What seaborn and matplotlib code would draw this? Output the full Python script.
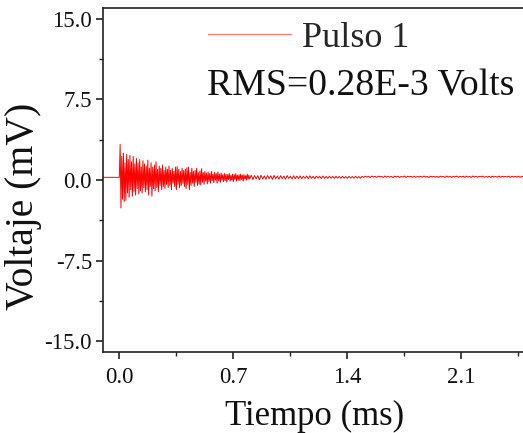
import numpy as np
import pandas as pd
import matplotlib
matplotlib.use("Agg")
import matplotlib.pyplot as plt
import seaborn as sns
from matplotlib.ticker import MultipleLocator, FormatStrFormatter

# ---------------- data (mV) ----------------
# pre-trigger (flat)
t_pre = [-0.1, -0.005]
v_pre = [0.25, 0.25]

# segment A: 0.000 .. 0.795 ms, sampled every 0.005 ms
a_start, a_step = 0.0, 0.005
v_a = [
    0.25, 3.3, -2.6, 2.2, -1.8, 2.5, -2.0, 1.6, -1.9, 2.4,
    -1.2, 1.9, -1.6, 2.3, -0.9, 1.7, -1.5, 2.2, -1.1, 1.5,
    -1.4, 2.0, -0.8, 1.6, -1.3, 1.9, -1.0, 1.2, -1.2, 1.8,
    -0.7, 1.5, -1.1, 1.3, -0.9, 1.85, -1.4, 1.1, -0.6, 1.6,
    -1.5, 1.2, -0.8, 1.4, -1.0, 1.7, -0.7, 1.0, -1.1, 1.3,
    -0.5, 1.1, -0.9, 1.4, -0.6, 0.9, -0.8, 1.2, -0.4, 1.0,
    -0.7, 1.3, -0.5, 0.9, -0.9, 1.1, -0.3, 0.8, -0.6, 1.2,
    -0.9, 1.25, -0.4, 1.0, -0.7, 0.8, -0.5, 1.1, -0.3, 0.9,
    -0.6, 1.0, -0.8, 1.15, -0.4, 1.2, -0.9, 0.7, -0.5, 1.1,
    -0.3, 0.8, -0.6, 0.9, -0.2, 1.1, -0.5, 0.7, -0.4, 0.85,
    -0.45, 1.05, -0.2, 0.7, -0.4, 0.8, -0.1, 0.65, -0.35, 0.75,
    -0.15, 0.6, -0.3, 0.8, -0.05, 0.55, -0.25, 0.7, 0.0, 0.6,
    -0.3, 0.75, -0.1, 0.55, -0.2, 0.65, 0.0, 0.5, -0.15, 0.6,
    -0.05, 0.55, -0.2, 0.5, 0.05, 0.6, -0.1, 0.45, 0.0, 0.55,
    -0.15, 0.5, 0.05, 0.6, -0.1, 0.45, 0.0, 0.5, -0.05, 0.55,
    0.05, 0.45, -0.1, 0.5, 0.1, 0.4, 0.0, 0.55, 0.05, 0.45,
]

# segment B: 0.80 .. 1.49 ms, sampled every 0.01 ms
b_start, b_step = 0.80, 0.01
v_b = [
    0.10, 0.45, 0.05, 0.42, 0.12, 0.40, 0.02, 0.44, 0.10, 0.38,
    0.08, 0.41, 0.14, 0.39, 0.06, 0.43, 0.12, 0.36, 0.09, 0.40,
    0.13, 0.37, 0.08, 0.41, 0.15, 0.35, 0.10, 0.39, 0.12, 0.36,
    0.14, 0.38, 0.11, 0.35, 0.16, 0.37, 0.12, 0.39, 0.15, 0.34,
    0.13, 0.36, 0.17, 0.35, 0.14, 0.37, 0.16, 0.33, 0.15, 0.36,
    0.17, 0.34, 0.15, 0.35, 0.18, 0.33, 0.16, 0.35, 0.17, 0.32,
    0.16, 0.34, 0.18, 0.33, 0.17, 0.35, 0.18, 0.32, 0.17, 0.34,
]

# segment C: 1.50 .. 2.50 ms, sampled every 0.01 ms
c_start, c_step = 1.50, 0.01
v_c = [
    0.24, 0.36, 0.27, 0.35, 0.23, 0.37, 0.28, 0.34, 0.25, 0.36,
    0.29, 0.33, 0.24, 0.37, 0.27, 0.35, 0.26, 0.34, 0.23, 0.36,
    0.28, 0.35, 0.25, 0.33, 0.27, 0.37, 0.24, 0.35, 0.29, 0.34,
    0.26, 0.36, 0.24, 0.33, 0.28, 0.35, 0.25, 0.37, 0.27, 0.34,
    0.23, 0.36, 0.28, 0.34, 0.26, 0.35, 0.24, 0.36, 0.29, 0.33,
    0.25, 0.37, 0.27, 0.34, 0.24, 0.35, 0.28, 0.36, 0.26, 0.33,
    0.29, 0.35, 0.25, 0.36, 0.27, 0.34, 0.24, 0.37, 0.28, 0.35,
    0.26, 0.34, 0.29, 0.36, 0.25, 0.33, 0.27, 0.35, 0.24, 0.36,
    0.28, 0.34, 0.26, 0.37, 0.25, 0.35, 0.29, 0.33, 0.27, 0.36,
    0.24, 0.35, 0.28, 0.34, 0.26, 0.36, 0.25, 0.35, 0.27, 0.34, 0.30,
]

x_ticks = [0.0, 0.7, 1.4, 2.1]
y_ticks = [-15.0, -7.5, 0.0, 7.5, 15.0]
series_label = "Pulso 1"
rms_text = "RMS=0.28E-3 Volts"
x_label = "Tiempo (ms)"
y_label = "Voltaje (mV)"

t_a = a_start + a_step * np.arange(len(v_a))
t_b = b_start + b_step * np.arange(len(v_b))
t_c = c_start + c_step * np.arange(len(v_c))
df = pd.DataFrame({
    "t": np.concatenate([t_pre, t_a, t_b, t_c]),
    "v": np.concatenate([v_pre, v_a, v_b, v_c]),
})

# ---------------- style ----------------
sns.set_style("ticks")
plt.rcParams["font.family"] = ["Liberation Serif", "DejaVu Serif"]
plt.rcParams["axes.unicode_minus"] = False

fig = plt.figure(figsize=(5.23, 4.33), dpi=100)
ax = fig.add_axes([0.197, 0.187, 0.841, 0.7945])

sns.lineplot(data=df, x="t", y="v", ax=ax, color="#ff0000", linewidth=0.7,
             estimator=None, sort=False, label=series_label)

ax.set_xlim(-0.1, 2.6)
ax.set_ylim(-16, 16)
ax.set_xticks(x_ticks)
ax.set_yticks(y_ticks)
ax.xaxis.set_minor_locator(MultipleLocator(0.35))
ax.yaxis.set_minor_locator(MultipleLocator(3.75))
ax.xaxis.set_major_formatter(FormatStrFormatter("%.1f"))
ax.yaxis.set_major_formatter(FormatStrFormatter("%.1f"))

for s in ax.spines.values():
    s.set_linewidth(1.2)
    s.set_color("#222222")
ax.tick_params(axis="both", which="major", direction="out", length=5, width=1.2,
               labelsize=16.5, colors="#222222", labelcolor="#111111")
ax.tick_params(axis="x", which="major", pad=6)
ax.tick_params(axis="y", which="major", pad=3)
ax.tick_params(axis="both", which="minor", direction="out", length=3, width=1.0,
               colors="#222222")

ax.set_xlabel(x_label, fontsize=25, color="#111111")
ax.set_ylabel(y_label, fontsize=28.5, color="#111111")
ax.xaxis.set_label_coords(0.482, -0.14)
ax.yaxis.set_label_coords(-0.139, 0.424)

leg = ax.legend(loc="center left", bbox_to_anchor=(0.239, 0.913), frameon=False,
                fontsize=26, handlelength=2.3, handletextpad=0.3,
                borderaxespad=0.0, borderpad=0.0)
for line in leg.get_lines():
    line.set_color("#ff8080")
    line.set_linewidth(1.0)

ax.text(0.236, 0.773, rms_text, transform=ax.transAxes, fontsize=27.2,
        ha="left", va="center", color="#111111")

fig.savefig("out.png", dpi=100)
